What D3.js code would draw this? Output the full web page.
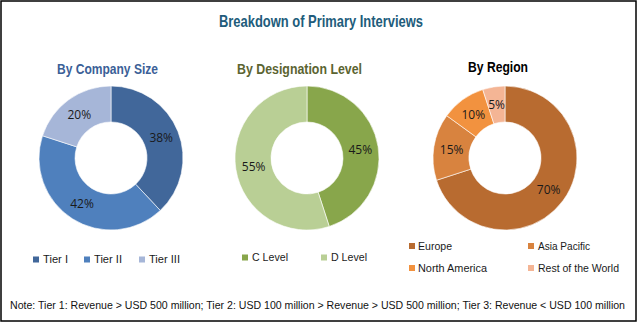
<!DOCTYPE html>
<html><head><meta charset="utf-8">
<script src="https://cdn.jsdelivr.net/npm/d3@7"></script>
<style>html,body{margin:0;padding:0;background:#fff;}svg{display:block;}</style>
</head><body>
<svg id="c" width="638" height="326"></svg>
<script>
const title = "Breakdown of Primary Interviews";
const note = "Note: Tier 1: Revenue > USD 500 million; Tier 2: USD 100 million > Revenue > USD 500 million; Tier 3: Revenue < USD 100 million";

const companyCategories = ["Tier I", "Tier II", "Tier III"];
const companyValues = [38, 42, 20];
const designationCategories = ["C Level", "D Level"];
const designationValues = [45, 55];
const regionCategories = ["Europe", "Asia Pacific", "North America", "Rest of the World"];
const regionValues = [70, 15, 10, 5];

const charts = [
  {title: "By Company Size", cats: companyCategories, vals: companyValues,
   colors: ["#41679a", "#4f80bd", "#a6b6d8"], titleColor: "#3b5f97", cx: 111, titleW: 101, titleX: 107.5, titleY: 74},
  {title: "By Designation Level", cats: designationCategories, vals: designationValues,
   colors: ["#88a64b", "#b9cf95"], titleColor: "#5b6431", cx: 307, titleW: 125, titleX: 299.5, titleY: 74},
  {title: "By Region", cats: regionCategories, vals: regionValues,
   colors: ["#b86b30", "#d8833f", "#f2923f", "#f4b595"], titleColor: "#000000", cx: 505, titleW: 60, titleX: 498, titleY: 72}
];

const svg = d3.select("#c");
svg.append("rect").attr("x", 1).attr("y", 1).attr("width", 635).attr("height", 320)
  .attr("fill", "#fff").attr("stroke", "#000").attr("stroke-width", 1.5);

svg.append("text").attr("x", 321).attr("y", 27).attr("text-anchor", "middle")
  .attr("font-family", "'Liberation Sans Narrow','Arial Narrow',sans-serif").attr("font-weight", "bold")
  .attr("font-size", 17).attr("fill", "#215c7b")
  .attr("textLength", 204).attr("lengthAdjust", "spacingAndGlyphs").text(title);

const cy = 158, rOut = 72, rIn = 36;
const pie = d3.pie().sort(null).value(d => d);
const arc = d3.arc().innerRadius(rIn).outerRadius(rOut);
const labelArc = d3.arc().innerRadius(54).outerRadius(54);

charts.forEach(ch => {
  svg.append("text").attr("x", ch.titleX).attr("y", ch.titleY).attr("text-anchor", "middle")
    .attr("font-family", "'Liberation Sans Narrow','Arial Narrow',sans-serif").attr("font-weight", "bold")
    .attr("font-size", 14).attr("fill", ch.titleColor)
    .attr("textLength", ch.titleW).attr("lengthAdjust", "spacingAndGlyphs").text(ch.title);
  const g = svg.append("g").attr("transform", `translate(${ch.cx},${cy})`);
  const arcs = pie(ch.vals);
  g.selectAll("path").data(arcs).join("path")
    .attr("d", arc).attr("fill", (d, i) => ch.colors[i])
    .attr("stroke", "#fff").attr("stroke-width", 0.6);
  g.selectAll("text").data(arcs).join("text")
    .attr("transform", d => `translate(${labelArc.centroid(d)})`)
    .attr("text-anchor", "middle").attr("dy", "0.35em")
    .attr("font-family", "'Open Sans',sans-serif").attr("font-size", 12).attr("fill", "#1a1a1a")
    .text(d => d.data + "%");
});

// legends
const legendItems = [
  {chart: 0, i: 0, sx: 33, sy: 256.5, tx: 43, ty: 263, w: 25},
  {chart: 0, i: 1, sx: 84, sy: 256.5, tx: 94, ty: 263, w: 28},
  {chart: 0, i: 2, sx: 139, sy: 256.5, tx: 149, ty: 263, w: 31},
  {chart: 1, i: 0, sx: 242, sy: 254.5, tx: 252, ty: 261, w: 36},
  {chart: 1, i: 1, sx: 321, sy: 254.5, tx: 331, ty: 261, w: 36},
  {chart: 2, i: 0, sx: 409, sy: 243, tx: 418, ty: 250, w: 34},
  {chart: 2, i: 1, sx: 528, sy: 243, tx: 538, ty: 250, w: 52},
  {chart: 2, i: 2, sx: 409, sy: 265, tx: 418, ty: 272, w: 69},
  {chart: 2, i: 3, sx: 528, sy: 265, tx: 538, ty: 272, w: 81}
];
legendItems.forEach(l => {
  const ch = charts[l.chart];
  svg.append("rect").attr("x", l.sx).attr("y", l.sy).attr("width", 6).attr("height", 6)
    .attr("fill", ch.colors[l.i]);
  svg.append("text").attr("x", l.tx).attr("y", l.ty)
    .attr("font-family", "'Liberation Sans',Arial,sans-serif").attr("font-size", 11).attr("fill", "#1a1a1a")
    .attr("textLength", l.w).attr("lengthAdjust", "spacingAndGlyphs").text(ch.cats[l.i]);
});

svg.append("text").attr("x", 10).attr("y", 309)
  .attr("font-family", "'Liberation Sans',Arial,sans-serif").attr("font-size", 10.5).attr("fill", "#111")
  .attr("textLength", 615).attr("lengthAdjust", "spacingAndGlyphs").text(note);
</script>
</body></html>
